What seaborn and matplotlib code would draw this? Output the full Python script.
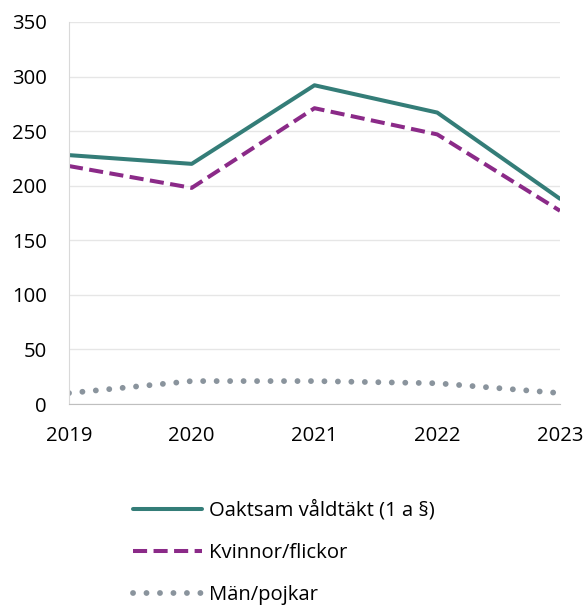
import matplotlib
matplotlib.use("Agg")
import matplotlib.pyplot as plt
import seaborn as sns
import pandas as pd

# Values
years = [2019, 2020, 2021, 2022, 2023]
total = [228, 220, 292, 267, 188]
women = [218, 198, 271, 247, 177]
men = [10, 21, 21, 19, 10]
labels = ["Oaktsam våldtäkt (1 a §)", "Kvinnor/flickor", "Män/pojkar"]

df = pd.DataFrame({"year": years, labels[0]: total, labels[1]: women, labels[2]: men})
long_df = df.melt(id_vars="year", var_name="serie", value_name="antal")

sns.set_style("white")
plt.rcParams["font.family"] = ["Open Sans", "DejaVu Sans"]
plt.rcParams["text.color"] = "black"
plt.rcParams["xtick.labelcolor"] = "black"
plt.rcParams["ytick.labelcolor"] = "black"

colors = {labels[0]: "#347d78", labels[1]: "#8b2a88", labels[2]: "#8a949d"}

fig = plt.figure(figsize=(5.86, 6.10), dpi=100)
ax = fig.add_axes([0.1177, 0.3377, 0.8379, 0.6263])

sns.lineplot(data=long_df[long_df.serie == labels[0]], x="year", y="antal",
             color=colors[labels[0]], lw=2.9, ax=ax, label=labels[0])
sns.lineplot(data=long_df[long_df.serie == labels[1]], x="year", y="antal",
             color=colors[labels[1]], lw=2.9, ls=(0, (3.5, 1.6)), ax=ax, label=labels[1])
sns.lineplot(data=long_df[long_df.serie == labels[2]], x="year", y="antal",
             color=colors[labels[2]], lw=4.2, ls=(0, (0.01, 2.3)), dash_capstyle="round",
             ax=ax, label=labels[2])

ax.set_xlim(2019, 2023)
ax.set_ylim(0, 350)
ax.set_yticks(range(0, 351, 50))
ax.set_xticks(years)
ax.set_xlabel("")
ax.set_ylabel("")
ax.grid(axis="y", color="#e6e6e6", lw=1)
ax.set_axisbelow(True)
for s in ["top", "right"]:
    ax.spines[s].set_visible(False)
ax.spines["left"].set_color("#d9d9d9")
ax.spines["bottom"].set_color("#bfbfbf")
ax.tick_params(axis="x", length=6, color="#bfbfbf", labelsize=14.6, pad=10)
ax.tick_params(axis="y", length=5, color="#e6e6e6", labelsize=14.6, pad=11)

handles, leg_labels = ax.get_legend_handles_labels()
ax.get_legend().remove()
fig.legend(handles, leg_labels, loc="upper left", bbox_to_anchor=(0.227, 0.18),
           frameon=False, fontsize=14.6, handlelength=3.4, labelspacing=1.1,
           handletextpad=0.35, borderpad=0, borderaxespad=0)

fig.savefig("out.png", dpi=100)
